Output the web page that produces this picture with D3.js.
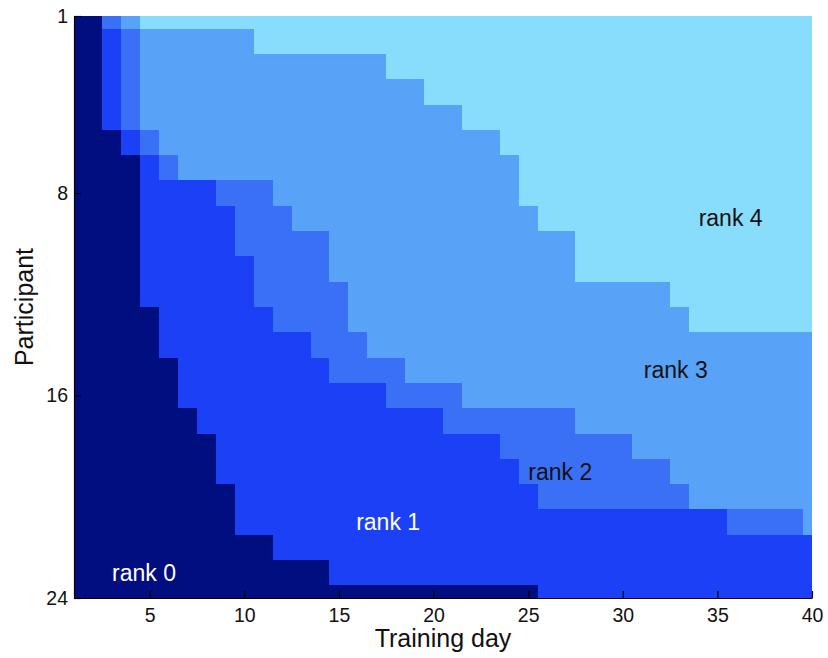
<!DOCTYPE html>
<html>
<head>
<meta charset="utf-8">
<script src="https://cdn.jsdelivr.net/npm/d3@7"></script>
<style>
  body { margin: 0; background: #fff; }
  svg { display: block; font-family: "Liberation Sans", Arial, Helvetica, sans-serif; }
  .axis path, .axis line { stroke: #000; stroke-width: 1.2; }
  .axis text { fill: #111; font-size: 19.5px; }
  .cells rect { shape-rendering: crispEdges; }
</style>
</head>
<body>
<div id="chart"></div>
<script>
// first training day on which each participant is at (or above) a given rank
// null = never reached within 40 days
var rank1Day = [3, 3, 3, 3, 3, 4, 5, 5, 5, 5, 5, 5, 6, 6, 7, 7, 8, 9, 9, 10, 10, 12, 15, 26];
var rank2Day = [3, 4, 4, 4, 4, 5, 6, 9, 10, 10, 11, 11, 12, 14, 15, 18, 21, 24, 25, 26, 36, null, null, null];
var rank3Day = [4, 5, 5, 5, 5, 6, 7, 12, 13, 15, 15, 16, 16, 17, 19, 22, 28, 31, 33, 34, 40, null, null, null];
var rank4Day = [5, 11, 18, 20, 22, 24, 25, 25, 26, 28, 28, 33, 34, null, null, null, null, null, null, null, null, null, null, null];

var days = d3.range(1, 41);
var participants = d3.range(1, 25);
var xTicks = [5, 10, 15, 20, 25, 30, 35, 40];
var yTicks = [1, 8, 16, 24];

var rankNames = ["rank 0", "rank 1", "rank 2", "rank 3", "rank 4"];
var rankColors = ["#000e80", "#1b40f6", "#3a70f5", "#58a2f8", "#88dcfc"];
// label anchor in data units (day, participant)
var labelDay = [4.7, 17.6, 26.7, 32.8, 35.7];
var labelPart = [23, 21, 19, 15, 9];

var W = 828, H = 658;
var mLeft = 74, mRight = 812, mTop = 16, mBottom = 598;

var x = d3.scaleLinear().domain([1, 40]).range([mLeft, mRight]);
var y = d3.scaleLinear().domain([1, 24]).range([mTop, mBottom]);
var color = d3.scaleOrdinal().domain([0, 1, 2, 3, 4]).range(rankColors);

var starts = [rank1Day, rank2Day, rank3Day, rank4Day];
var cells = [];
participants.forEach(function(p, i){
  days.forEach(function(d){
    var r = 0;
    starts.forEach(function(s){
      if (s[i] !== null && d >= s[i]) r++;
    });
    cells.push({day: d, part: p, rank: r});
  });
});

var svg = d3.select("#chart").append("svg")
  .attr("width", W)
  .attr("height", H);

svg.append("clipPath").attr("id", "plotclip")
  .append("rect")
  .attr("x", mLeft).attr("y", mTop)
  .attr("width", mRight - mLeft).attr("height", mBottom - mTop);

svg.append("g")
  .attr("class", "cells")
  .attr("clip-path", "url(#plotclip)")
  .selectAll("rect").data(cells).enter().append("rect")
    .attr("x", function(d){ return x(d.day - 0.5); })
    .attr("y", function(d){ return y(d.part - 0.5); })
    .attr("width", function(d){ return x(d.day + 0.5) - x(d.day - 0.5) + 0.5; })
    .attr("height", function(d){ return y(d.part + 0.5) - y(d.part - 0.5) + 0.5; })
    .attr("fill", function(d){ return color(d.rank); });

// region labels
svg.append("g").selectAll("text").data(rankNames).enter().append("text")
  .attr("x", function(d, i){ return x(labelDay[i]); })
  .attr("y", function(d, i){ return y(labelPart[i]); })
  .attr("dy", "0.35em")
  .attr("text-anchor", "middle")
  .style("font-size", "23px")
  .attr("fill", function(d, i){ return i < 2 ? "#fff" : "#111"; })
  .text(function(d){ return d; });

var xAxis = d3.axisBottom(x).tickValues(xTicks).tickSizeInner(-7).tickSizeOuter(0).tickPadding(10);
var yAxis = d3.axisLeft(y).tickValues(yTicks).tickSizeInner(-7).tickSizeOuter(0).tickPadding(6);

svg.append("g")
  .attr("class", "axis")
  .attr("transform", "translate(0," + mBottom + ")")
  .call(xAxis);

svg.append("g")
  .attr("class", "axis")
  .attr("transform", "translate(" + mLeft + ",0)")
  .call(yAxis);

svg.selectAll(".axis").attr("font-family", null).attr("font-size", null);

svg.append("text")
  .attr("x", (mLeft + mRight) / 2)
  .attr("y", 647)
  .attr("text-anchor", "middle")
  .style("font-size", "25px")
  .attr("fill", "#111")
  .text("Training day");

svg.append("text")
  .attr("transform", "translate(33," + ((mTop + mBottom) / 2) + ") rotate(-90)")
  .attr("text-anchor", "middle")
  .style("font-size", "25px")
  .attr("fill", "#111")
  .text("Participant");
</script>
</body>
</html>
